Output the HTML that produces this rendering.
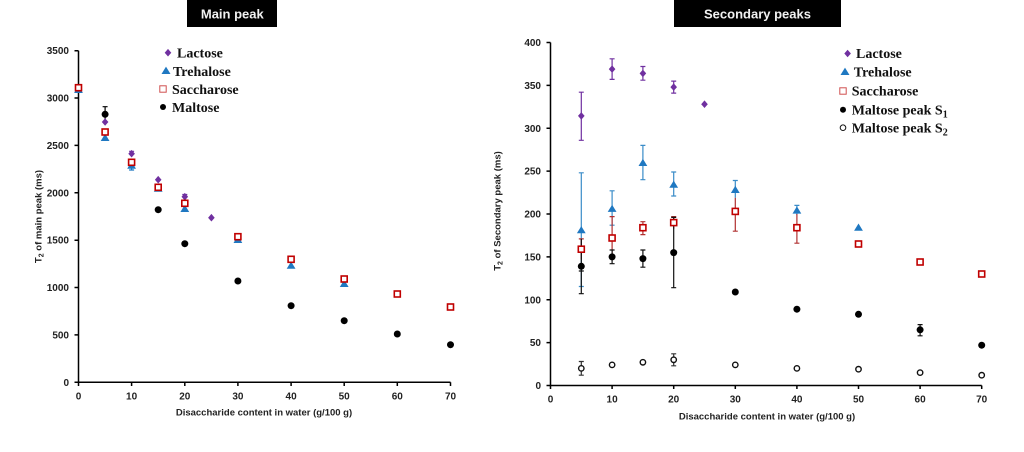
<!DOCTYPE html>
<html><head><meta charset="utf-8"><style>
html,body{margin:0;padding:0;background:#fff;}
svg{display:block;}
.tk{font-family:"Liberation Sans",Arial,sans-serif;font-weight:bold;font-size:10px;fill:#222;}
.ax{font-family:"Liberation Sans",Arial,sans-serif;font-weight:bold;font-size:9.5px;fill:#222;}
.lg{font-family:"Liberation Serif","Times New Roman",serif;font-weight:bold;font-size:14px;fill:#111;}
.tt{font-family:"Liberation Sans",Arial,sans-serif;font-weight:bold;font-size:13px;fill:#f2f2f2;}
</style></head><body>
<svg width="1024" height="452" viewBox="0 0 1024 452" xmlns="http://www.w3.org/2000/svg">
<defs>
<polygon id="d" points="0,-3.8 3.3,0 0,3.8 -3.3,0" fill="#7030A0"/>
<polygon id="t" points="0,-4.2 4.4,3 -4.4,3" fill="#1F78C1"/>
<rect id="s" x="-3" y="-3" width="6" height="6" fill="#fff" stroke="#C00000" stroke-width="1.6"/>
<circle id="m" r="3.5" fill="#000"/>
<circle id="o" r="2.7" fill="#fff" stroke="#111" stroke-width="1.4"/>
</defs>
<rect width="1024" height="452" fill="#fff"/>

<!-- Titles -->
<rect x="187" y="0" width="90" height="27" fill="#000"/>
<text class="tt" x="232.3" y="18.5" text-anchor="middle">Main peak</text>
<rect x="674" y="0" width="167" height="27" fill="#000"/>
<text class="tt" x="757.5" y="18.5" text-anchor="middle">Secondary peaks</text>

<!-- LEFT CHART axes -->
<g stroke="#000" stroke-width="1.5" fill="none">
<path d="M78.5 50.7 V382.3 H450.5"/>
<path d="M74.5 382.3H78.5 M74.5 334.9H78.5 M74.5 287.5H78.5 M74.5 240.2H78.5 M74.5 192.8H78.5 M74.5 145.4H78.5 M74.5 98H78.5 M74.5 50.7H78.5"/>
<path d="M78.5 382.3V386 M131.6 382.3V386 M184.8 382.3V386 M237.9 382.3V386 M291.1 382.3V386 M344.2 382.3V386 M397.3 382.3V386 M450.5 382.3V386"/>
</g>
<g class="tk" text-anchor="end">
<text x="69" y="385.8">0</text><text x="69" y="338.4">500</text><text x="69" y="291">1000</text><text x="69" y="243.7">1500</text>
<text x="69" y="196.3">2000</text><text x="69" y="148.9">2500</text><text x="69" y="101.5">3000</text><text x="69" y="54.2">3500</text>
</g>
<g class="tk" text-anchor="middle">
<text x="78.5" y="399.3">0</text><text x="131.6" y="399.3">10</text><text x="184.8" y="399.3">20</text><text x="237.9" y="399.3">30</text>
<text x="291.1" y="399.3">40</text><text x="344.2" y="399.3">50</text><text x="397.3" y="399.3">60</text><text x="450.5" y="399.3">70</text>
</g>
<text class="ax" x="264" y="415.5" text-anchor="middle">Disaccharide content in water (g/100 g)</text>
<text class="ax" transform="translate(41.5,216.5) rotate(-90)" text-anchor="middle">T<tspan font-size="7" dy="2">2</tspan><tspan dy="-2"> of main peak (ms)</tspan></text>

<!-- LEFT error bars -->
<g fill="none" stroke-width="1.2">
<path stroke="#000" d="M105.1 106.7V122 M102.6 106.7H107.6"/>
<path stroke="#7030A0" d="M131.6 151.3V156 M129.1 151.3H134.1 M184.8 194.5V199 M182.3 194.5H187.3"/>
<path stroke="#1F78C1" d="M131.6 161V170 M129.1 170H134.1"/>
</g>
<!-- LEFT markers -->
<g>
<use href="#t" x="78.5" y="90"/><use href="#t" x="105.1" y="138"/><use href="#t" x="131.6" y="165.7"/><use href="#t" x="158.2" y="188.7"/>
<use href="#t" x="184.8" y="209"/><use href="#t" x="237.9" y="240"/><use href="#t" x="291.1" y="265.7"/><use href="#t" x="344.2" y="284"/>
<use href="#d" x="78.5" y="88"/><use href="#d" x="105.1" y="122"/><use href="#d" x="131.6" y="153.7"/><use href="#d" x="158.2" y="179.7"/>
<use href="#d" x="184.8" y="196.7"/><use href="#d" x="211.4" y="217.7"/>
<use href="#s" x="78.5" y="87.7"/><use href="#s" x="105.1" y="132"/><use href="#s" x="131.6" y="162.3"/><use href="#s" x="158.2" y="187.3"/>
<use href="#s" x="184.8" y="203.3"/><use href="#s" x="237.9" y="236.7"/><use href="#s" x="291.1" y="259.3"/><use href="#s" x="344.2" y="279"/>
<use href="#s" x="397.3" y="294"/><use href="#s" x="450.5" y="307"/>
<use href="#m" x="105.1" y="114.3"/><use href="#m" x="158.2" y="209.7"/><use href="#m" x="184.8" y="243.7"/><use href="#m" x="237.9" y="281"/>
<use href="#m" x="291.1" y="305.7"/><use href="#m" x="344.2" y="320.7"/><use href="#m" x="397.3" y="334"/><use href="#m" x="450.5" y="344.7"/>
</g>
<!-- LEFT legend -->
<polygon points="168,48.9 171.3,52.7 168,56.5 164.7,52.7" fill="#7030A0"/>
<text class="lg" x="177" y="57.4">Lactose</text>
<polygon points="166,66.6 170.5,74 161.5,74" fill="#1F78C1"/>
<text class="lg" x="173" y="76">Trehalose</text>
<rect x="159.8" y="85.8" width="6.4" height="6.4" fill="#fff" stroke="#D05050" stroke-width="1"/>
<text class="lg" x="172" y="94">Saccharose</text>
<circle cx="163" cy="107" r="3" fill="#000"/>
<text class="lg" x="172" y="112">Maltose</text>

<!-- RIGHT CHART axes -->
<g stroke="#000" stroke-width="1.5" fill="none">
<path d="M550.5 42.5 V385.5 H981.7"/>
<path d="M546.5 385.5H550.5 M546.5 342.6H550.5 M546.5 299.8H550.5 M546.5 256.9H550.5 M546.5 214H550.5 M546.5 171.1H550.5 M546.5 128.3H550.5 M546.5 85.4H550.5 M546.5 42.5H550.5"/>
<path d="M550.5 385.5V389 M612.1 385.5V389 M673.7 385.5V389 M735.3 385.5V389 M796.9 385.5V389 M858.5 385.5V389 M920.1 385.5V389 M981.7 385.5V389"/>
</g>
<g class="tk" text-anchor="end">
<text x="541" y="389">0</text><text x="541" y="346.1">50</text><text x="541" y="303.3">100</text><text x="541" y="260.4">150</text>
<text x="541" y="217.5">200</text><text x="541" y="174.6">250</text><text x="541" y="131.8">300</text><text x="541" y="88.9">350</text><text x="541" y="46">400</text>
</g>
<g class="tk" text-anchor="middle">
<text x="550.5" y="402.5">0</text><text x="612.1" y="402.5">10</text><text x="673.7" y="402.5">20</text><text x="735.3" y="402.5">30</text>
<text x="796.9" y="402.5">40</text><text x="858.5" y="402.5">50</text><text x="920.1" y="402.5">60</text><text x="981.7" y="402.5">70</text>
</g>
<text class="ax" x="767" y="419.5" text-anchor="middle">Disaccharide content in water (g/100 g)</text>
<text class="ax" transform="translate(500.5,211) rotate(-90)" text-anchor="middle">T<tspan font-size="7" dy="2">2</tspan><tspan dy="-2"> of Secondary peak (ms)</tspan></text>

<!-- RIGHT error bars -->
<g fill="none" stroke-width="1.2">
<path stroke="#7030A0" d="M581.3 92.2V140.3 M578.8 92.2H583.8 M578.8 140.3H583.8 M612.1 58.8V79.4 M609.6 58.8H614.6 M609.6 79.4H614.6 M642.9 66.5V80.2 M640.4 66.5H645.4 M640.4 80.2H645.4 M673.7 81.1V93.1 M671.2 81.1H676.2 M671.2 93.1H676.2"/>
<path stroke="#3A8CC8" d="M581.3 172.8V286.5 M578.8 172.8H583.8 M578.8 286.5H583.8 M612.1 190.8V225.2 M609.6 190.8H614.6 M609.6 225.2H614.6 M642.9 145.4V179.7 M640.4 145.4H645.4 M640.4 179.7H645.4 M673.7 172V196 M671.2 172H676.2 M671.2 196H676.2 M735.3 180.5V197.7 M732.8 180.5H737.8 M796.9 205.4V214.9 M794.4 205.4H799.4"/>
<path stroke="#B03030" d="M581.3 238.9V259.4 M578.8 238.9H583.8 M612.1 216.6V259.4 M609.6 216.6H614.6 M642.9 221.7V234.6 M640.4 221.7H645.4 M640.4 234.6H645.4 M673.7 216.6V228.6 M671.2 216.6H676.2 M735.3 197.7V231.2 M732.8 231.2H737.8 M796.9 214V243.2 M794.4 243.2H799.4"/>
<path stroke="#111" d="M581.3 238.9V293.7 M578.8 293.7H583.8 M578.8 271H583.8 M612.1 250V263.7 M609.6 250H614.6 M609.6 263.7H614.6 M642.9 250V267.2 M640.4 250H645.4 M640.4 267.2H645.4 M673.7 217.4V287.7 M671.2 217.4H676.2 M671.2 287.7H676.2 M735.3 289.5V294.5 M920.1 324.6V335.8 M917.6 324.6H922.6 M917.6 335.8H922.6"/>
<path stroke="#333" d="M581.3 361.5V375.2 M578.8 361.5H583.8 M578.8 375.2H583.8 M673.7 353.8V365.8 M671.2 353.8H676.2 M671.2 365.8H676.2 M642.9 360V364.5"/>
</g>
<!-- RIGHT markers -->
<g>
<use href="#d" x="581.3" y="115.9"/><use href="#d" x="612.1" y="69.1"/><use href="#d" x="642.9" y="73.4"/><use href="#d" x="673.7" y="87.1"/><use href="#d" x="704.5" y="104.2"/>
<use href="#t" x="581.3" y="230.3"/><use href="#t" x="612.1" y="208.9"/><use href="#t" x="642.9" y="163"/><use href="#t" x="673.7" y="184.8"/>
<use href="#t" x="735.3" y="190"/><use href="#t" x="796.9" y="210.6"/><use href="#t" x="858.5" y="227.7"/>
<use href="#s" x="581.3" y="249.2"/><use href="#s" x="612.1" y="238"/><use href="#s" x="642.9" y="227.7"/><use href="#s" x="673.7" y="222.6"/>
<use href="#s" x="735.3" y="211.4"/><use href="#s" x="796.9" y="227.7"/><use href="#s" x="858.5" y="244"/><use href="#s" x="920.1" y="262"/><use href="#s" x="981.7" y="274"/>
<use href="#m" x="581.3" y="266.3"/><use href="#m" x="612.1" y="256.9"/><use href="#m" x="642.9" y="258.6"/><use href="#m" x="673.7" y="252.6"/>
<use href="#m" x="735.3" y="292"/><use href="#m" x="796.9" y="309.2"/><use href="#m" x="858.5" y="314.3"/><use href="#m" x="920.1" y="329.8"/><use href="#m" x="981.7" y="345.2"/>
<use href="#o" x="581.3" y="368.4"/><use href="#o" x="612.1" y="364.9"/><use href="#o" x="642.9" y="362.3"/><use href="#o" x="673.7" y="359.8"/>
<use href="#o" x="735.3" y="364.9"/><use href="#o" x="796.9" y="368.4"/><use href="#o" x="858.5" y="369.2"/><use href="#o" x="920.1" y="372.6"/><use href="#o" x="981.7" y="375.2"/>
</g>
<!-- RIGHT legend -->
<polygon points="847.6,49.7 850.9,53.5 847.6,57.3 844.3,53.5" fill="#7030A0"/>
<text class="lg" x="856" y="58.1">Lactose</text>
<polygon points="845,67.6 849.5,75 840.5,75" fill="#1F78C1"/>
<text class="lg" x="853.8" y="76.6">Trehalose</text>
<rect x="839.8" y="87.8" width="6.4" height="6.4" fill="#fff" stroke="#D05050" stroke-width="1"/>
<text class="lg" x="851.7" y="95.6">Saccharose</text>
<circle cx="843" cy="109.7" r="3" fill="#000"/>
<text class="lg" x="851.7" y="114.3">Maltose peak S<tspan font-size="10" dy="3">1</tspan></text>
<circle cx="843" cy="127.7" r="2.8" fill="#fff" stroke="#111" stroke-width="1"/>
<text class="lg" x="851.7" y="132.3">Maltose peak S<tspan font-size="10" dy="3">2</tspan></text>
</svg>
</body></html>
